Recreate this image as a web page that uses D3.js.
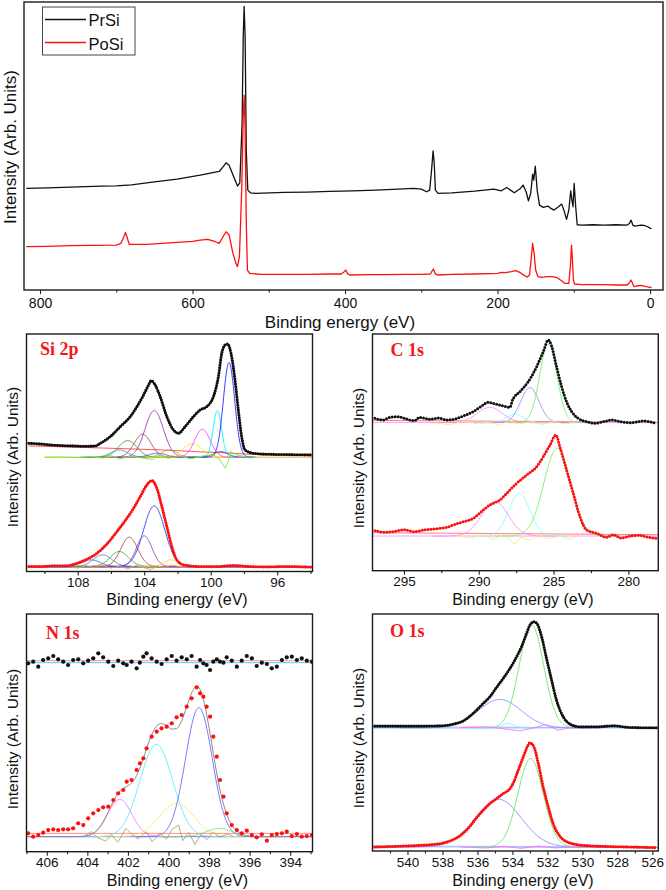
<html lang="en">
<head>
<script src="https://d3js.org/d3.v7.min.js"></script>
<style>
  body { margin: 0; background: white; }
  svg text { font-family: "Liberation Sans", Arial, sans-serif; fill: #111; }
  .plab { font-family: "Liberation Serif", "Times New Roman", serif !important; font-weight: bold; fill: #f01818 !important; }
</style>
</head>
<body>
<svg id="fig" width="666" height="890"></svg>
<script>
// ---------- survey (wide scan) ----------
const surveyPrSi = [[818,305],[790,307],[750,310],[720,312],[700,313],[680,316],[650,325],[620,333],[590,345],[575,352],[565,356],[560,370],[556,382],[552,375],[546,340],[541,312],[538,322],[535,500],[533.5,760],[532.3,852],[531,760],[529.5,420],[527.5,300],[524,292],[517,290],[480,293],[450,294],[420,296],[390,298],[360,300],[330,303],[310,305],[300,303],[293,295],[289,300],[286.5,360],[284.5,418],[283,380],[281.5,300],[278,290],[260,292],[230,297],[205,303],[195,298],[188,308],[183,300],[178,292],[170,305],[166.5,315],[162.5,295],[159.5,268],[156.5,290],[154,348],[152.5,330],[150.5,372],[148,300],[145,255],[140,248],[134,252],[130,245],[126,240],[120,250],[116,258],[113,240],[109.5,212],[106.5,240],[104,298],[102.5,270],[101,250],[99.5,320],[97.5,250],[95.5,196],[90,195],[75,196],[60,195],[45,196],[30,195],[27,200],[25,210],[22.5,195],[20,192],[12,195],[8,194],[3,190],[0,186],[-2,184]];
const surveyPoSi = [[818,130],[790,131],[760,133],[730,134],[700,135],[694,140],[690,160],[688,173],[686,160],[683,137],[660,137],[640,140],[620,143],[600,146],[590,150],[580,152],[570,145],[565,140],[560,160],[556,175],[552,165],[547,110],[543,80],[541,70],[538.5,100],[535.5,300],[533.5,520],[532.3,585],[531,480],[529.5,200],[528,60],[525,50],[510,47],[480,47],[450,47],[420,48],[405,48],[401,55],[399,60],[397,50],[394,45],[370,46],[350,46],[320,47],[300,47],[288,48],[285.5,58],[284,63],[282,50],[279,45],[260,47],[230,48],[200,50],[195,53],[190,52],[182,55],[176,58],[170,52],[165,44],[161,39],[158,45],[156,90],[154,140],[152,110],[150,60],[147,40],[142,38],[135,40],[128,40],[122,37],[116,28],[112,20],[106.5,20],[104.5,70],[103,135],[102,100],[100.5,30],[99,18],[90,16],[80,16],[60,16],[40,15],[30,15],[27,22],[25,30],[23,20],[21,10],[18,12],[12,14],[5,10],[0,8],[-2,8]];
const surveyTicks = [800, 600, 400, 200, 0];
const surveyMinor = [700, 500, 300, 100];
const seriesNames = ["PrSi", "PoSi"];

// ---------- Si 2p ----------
const si2pPrSi = [[110.94,385],[110.3,383],[109.64,380],[108.9,378],[108.24,377],[107.6,376],[106.94,377],[106.64,385],[106.04,405],[105.44,435],[104.84,465],[104.44,495],[104.04,530],[103.74,560],[103.58,573],[103.34,560],[103.04,525],[102.64,465],[102.24,425],[101.94,415],[101.54,435],[101.04,465],[100.64,485],[100.24,495],[99.84,525],[99.54,585],[99.34,655],[99.14,680],[98.98,683],[98.78,655],[98.54,575],[98.34,485],[98.14,405],[97.94,365],[97.44,355],[96.64,352],[95.44,351],[93.94,350]];
const si2pPoSi = [[110.94,15],[110.24,15],[109.44,17],[108.64,17],[108.04,25],[107.44,37],[106.84,55],[106.24,83],[105.64,120],[105.04,160],[104.64,190],[104.24,225],[103.84,260],[103.54,273],[103.24,250],[102.94,195],[102.64,135],[102.34,75],[102.04,35],[101.64,20],[100.64,15],[99.64,15],[98.64,18],[97.64,15],[96.64,14],[95.44,15],[93.94,13]];
// fitted peaks: [centre eV, height, FWHM eV]
const si2pPrSiPeaks = [[105.5,22,1.2],[105.0,50,1.3],[104.1,69,1.2],[103.4,140,1.3],[103.2,12,1.2],[102.5,22,1.1],[101.1,40,1.4],[100.5,84,1.1],[99.6,140,0.6],[99.4,17,1.0],[98.9,284,0.8]];
const si2pPoSiPeaks = [[107.2,20,1.3],[106.5,35,1.3],[105.5,45,1.3],[104.9,88,1.2],[104.0,92,1.1],[103.4,182,1.5],[102.4,20,1.0]];
const si2pPrSiBase = 343, si2pPoSiBase = 15;
const si2pPrSiResid = [[110.0,343],[109,344],[108,342],[107.2,345],[106.5,340],[106.0,348],[105.5,338],[104.8,346],[104.0,340],[103.5,336],[103.2,350],[102.6,340],[101.8,346],[101.2,338],[100.4,348],[99.8,350],[99.45,335],[99.14,310],[98.95,330],[98.8,360],[98.5,350],[98.1,347],[97.7,341],[97.2,343]];
const si2pPoSiResid = [[108.5,15],[108,10],[107.5,18],[107,12],[106.5,19],[106,10],[105.5,16],[105,8],[104.5,18],[104,11],[103.6,6],[103.2,16],[102.8,13],[102.3,19],[101.8,14],[101,15]];
const si2pPrSiBg = [[110.94,377],[106,370],[103,365],[100.5,359],[99,356],[97.7,352],[93.9,350]];
const si2pTicks = [108, 104, 100, 96];
const si2pMinor = [110, 106, 102, 98, 94];

// ---------- C 1s ----------
const c1sPrSi = [[296.94,457],[296.4,452],[295.94,460],[295.4,462],[294.83,455],[294.3,450],[293.94,460],[293.27,454],[292.7,458],[292.15,452],[291.6,455],[291.04,464],[290.37,477],[289.70,497],[289.4,505],[289.03,502],[288.7,498],[288.36,494],[287.92,490],[287.74,512],[287.25,537],[286.69,567],[286.13,612],[285.69,657],[285.35,692],[285.13,674],[284.80,612],[284.46,552],[284.13,507],[283.79,477],[283.35,457],[282.79,447],[282.2,442],[281.68,447],[281.1,452],[280.56,447],[279.8,444],[279.0,449],[278.11,442]];
const c1sPoSi = [[296.94,120],[296.2,115],[295.5,119],[295.0,123],[294.3,117],[293.71,122],[292.6,127],[292.0,132],[291.7,137],[291.04,147],[290.37,157],[289.70,182],[289.26,197],[288.59,212],[287.92,242],[287.47,262],[286.8,287],[286.13,312],[285.69,342],[285.24,377],[284.84,407],[284.58,372],[284.13,302],[283.68,232],[283.24,162],[282.79,122],[282.12,112],[281.46,100],[281.0,108],[280.5,98],[279.9,104],[279.3,106],[278.6,100],[278.11,97]];
const c1sPrSiPeaks = [[289.26,46,2.0],[287.58,25,1.3],[286.58,105,1.45],[285.35,236,1.35]];
const c1sPoSiPeaks = [[288.92,103,2.1],[287.29,128,1.67],[284.75,263,2.1]];
const c1sPrSiBase = 444, c1sPoSiBase = 104;
const c1sPrSiResid = [[293,444],[292,438],[291,448],[290,440],[289.3,446],[288.6,436],[288,450],[287.3,440],[286.5,447],[285.8,438],[285,448],[284.3,440],[283.6,446]];
const c1sPoSiResid = [[291.5,104],[290.5,98],[289.8,108],[289,94],[288.3,110],[287.6,80],[287.2,100],[286.6,92],[286,108],[285.3,96],[284.6,104],[284,95],[283.4,103]];
const c1sTicks = [295, 290, 285, 280];
const c1sMinor = [292.5, 287.5, 282.5];

// ---------- N 1s ----------
const n1sEnergy = [406.92,406.67,406.42,406.18,405.93,405.68,405.44,405.19,404.95,404.70,404.45,404.20,403.96,403.71,403.46,403.22,402.97,402.72,402.48,402.23,402.06,401.82,401.57,401.41,401.24,401.08,400.83,400.58,400.34,400.09,399.84,399.60,399.35,399.10,398.86,398.61,398.44,398.28,398.12,397.95,397.79,397.62,397.46,397.29,397.13,396.88,396.63,396.39,396.14,395.89,395.65,395.40,395.15,394.91,394.66,394.41,394.17,393.92,393.67,393.43,393.18,392.93];
const n1sPrSi = [565,570,555,575,580,587,577,570,560,575,577,565,573,580,595,583,570,557,573,565,560,570,550,567,585,595,580,570,563,577,587,573,583,577,587,555,575,565,560,545,570,577,570,567,583,573,555,573,587,580,557,567,563,550,555,575,583,585,575,580,573,570];
const n1sPoSi = [55,45,50,57,65,67,65,67,67,70,85,80,100,115,125,133,135,155,175,185,210,215,245,265,280,310,345,360,370,375,385,403,410,435,460,493,475,465,435,405,345,285,215,165,115,80,65,55,63,50,43,52,33,50,53,55,60,47,53,45,47,50];
const n1sPoSiPeaks = [[402.4,112,1.4],[400.6,277,1.9],[399.6,100,2.0],[398.5,387,1.55],[397.5,25,1.5]];
const n1sPoSiBase = 45;
const n1sPoSiResid = [[404.2,45],[403.8,60],[403.5,42],[403.1,32],[402.8,50],[402.5,28],[402.1,70],[401.8,52],[401.5,38],[401.1,60],[400.8,30],[400.4,56],[400.1,38],[399.8,68],[399.5,80],[399.3,33],[399.0,58],[398.7,22],[398.4,52],[398.1,36],[397.8,60],[397.5,43],[397.1,53],[396.8,46]];
const n1sTicks = [406, 404, 402, 400, 398, 396, 394];
const n1sMinor = [407, 405, 403, 401, 399, 397, 395, 393];

// ---------- O 1s ----------
const o1sPrSi = [[541.87,374],[540.63,374],[539.29,374],[538.15,375],[537.39,380],[536.81,390],[536.43,404],[536.05,422],[535.67,442],[535.29,462],[534.91,490],[534.53,517],[534.14,547],[533.76,582],[533.48,612],[533.19,652],[533.00,677],[532.77,687],[532.58,680],[532.33,642],[532.05,577],[531.76,512],[531.48,452],[531.09,402],[530.71,380],[530.14,372],[529.19,372],[528.23,375],[527.28,370],[525.76,369]];
const o1sPoSi = [[541.87,12],[540.63,14],[539.29,17],[538.15,22],[537.58,30],[537.10,42],[536.81,54],[536.43,74],[536.05,100],[535.67,122],[535.29,142],[534.91,157],[534.53,172],[534.14,187],[533.95,204],[533.67,242],[533.38,282],[533.15,312],[533.00,324],[532.77,312],[532.52,262],[532.24,192],[531.95,132],[531.67,82],[531.28,44],[530.71,24],[529.95,17],[528.81,14],[527.28,12],[525.76,10]];
const o1sPrSiPeaks = [[534.72,85,2.9],[532.91,308,1.65],[534.24,13,0.8]];
const o1sPoSiPeaks = [[534.81,143,3.1],[532.96,265,1.7]];
const o1sPrSiBase = 369, o1sPoSiBase = 12;
const o1sPrSiResid = [[537,369],[535.5,372],[534.5,366],[533.6,360],[533.2,364],[532.6,371],[532.2,378],[531.8,372],[531.4,362],[530.8,368],[529.5,369]];
const o1sPoSiResid = [[537,12],[535.5,9],[534.5,14],[533.5,8],[532.5,15],[531.5,9],[530.5,13],[529,11]];
const o1sTicks = [540, 538, 536, 534, 532, 530, 528, 526];
const o1sMinor = [541, 539, 537, 535, 533, 531, 529, 527];

const svg = d3.select("#fig");
let clipN = 0;

function gaussCurve(pk, base) {
  const [c, h, w] = pk;
  const s = w / 2.3548;
  return d3.range(c - 2 * w, c + 2 * w, w / 60).map(e => [e, base + h * Math.exp(-0.5 * ((e - c) / s) ** 2)]);
}

function panel(p) {
  const g = svg.append("g");
  const x = d3.scaleLinear().domain(p.xDomain).range([p.left, p.right]);
  const y = d3.scaleLinear().domain(p.yDomain).range([p.bottom, p.top]);
  const id = "clip" + (clipN++);
  svg.append("clipPath").attr("id", id).append("rect")
    .attr("x", p.left).attr("y", p.top)
    .attr("width", p.right - p.left).attr("height", p.bottom - p.top);
  const plot = g.append("g").attr("clip-path", `url(#${id})`);
  const line = d3.line().x(d => x(d[0])).y(d => y(d[1]));
  const smooth = d3.line().x(d => x(d[0])).y(d => y(d[1])).curve(d3.curveMonotoneX);

  (p.spectra || []).forEach(s => {
    (s.bg || []).forEach(b => {
      plot.append("path").attr("d", line(b.pts)).attr("fill", "none")
        .attr("stroke", b.color).attr("stroke-width", 0.9);
    });
    (s.peaks || []).forEach((pk, i) => {
      plot.append("path").attr("d", smooth(gaussCurve(pk, s.base))).attr("fill", "none")
        .attr("stroke", s.peakColors[i]).attr("stroke-width", 0.9);
    });
    if (s.resid) {
      plot.append("path").attr("d", line(s.resid)).attr("fill", "none")
        .attr("stroke", s.residColor).attr("stroke-width", 0.9);
    }
    if (s.envelope) {
      plot.append("path").attr("d", smooth(s.envelope)).attr("fill", "none")
        .attr("stroke", "#8a8a8a").attr("stroke-width", 1);
    }
    if (s.mode === "line") {
      plot.append("path").attr("d", line(s.data)).attr("fill", "none")
        .attr("stroke", s.color).attr("stroke-width", 1.3).attr("stroke-linejoin", "round");
    } else if (s.mode === "dots") {
      plot.append("path").attr("d", smooth(s.data)).attr("fill", "none")
        .attr("stroke", s.color).attr("stroke-width", p.dot)
        .attr("stroke-linecap", "round").attr("stroke-dasharray", `0 ${p.gap}`);
    } else {
      plot.selectAll(null).data(s.data).enter().append("circle")
        .attr("cx", d => x(d[0])).attr("cy", d => y(d[1])).attr("r", 2.1)
        .attr("fill", s.color);
    }
  });

  // minor + major ticks (outside)
  g.append("g").attr("transform", `translate(0,${p.bottom})`)
    .call(d3.axisBottom(x).tickValues(p.minor).tickSize(2.5).tickFormat(""))
    .call(a => a.select(".domain").remove())
    .selectAll("line").attr("stroke", "#222").attr("stroke-width", 1.1);
  g.append("g").attr("transform", `translate(0,${p.bottom})`)
    .call(d3.axisBottom(x).tickValues(p.ticks).tickSize(4).tickPadding(p.pad).tickFormat(d3.format("d")))
    .call(a => a.select(".domain").remove())
    .call(a => a.selectAll("line").attr("stroke", "#222").attr("stroke-width", 1.1))
    .call(a => a.selectAll("text").attr("font-size", p.tickFont).attr("font-family", "Liberation Sans, Arial, sans-serif").attr("fill", "#111"));

  g.append("rect").attr("x", p.left).attr("y", p.top)
    .attr("width", p.right - p.left).attr("height", p.bottom - p.top)
    .attr("fill", "none").attr("stroke", "#1a1a1a").attr("stroke-width", 1.4);

  g.append("text").attr("x", p.titleX).attr("y", p.titleY).attr("text-anchor", "middle")
    .attr("font-size", p.titleFont).text("Binding energy (eV)");
  g.append("text").attr("transform", `translate(${p.ylabX},${p.ylabY}) rotate(-90)`)
    .attr("text-anchor", "middle").attr("font-size", p.ylabFont).text("Intensity (Arb. Units)");
  if (p.label) {
    g.append("text").attr("class", "plab").attr("x", p.labelX).attr("y", p.labelY)
      .attr("font-size", 18).text(p.label);
  }
  return {x, y, g};
}

// ---------- top survey panel ----------
panel({
  left: 24, right: 663, top: 2, bottom: 290,
  xDomain: [821, -17], yDomain: [0, 865],
  ticks: surveyTicks, minor: surveyMinor, pad: 4, tickFont: 14,
  titleX: 340, titleY: 327.5, titleFont: 17,
  ylabX: 15.5, ylabY: 147, ylabFont: 17,
  spectra: [
    {data: surveyPrSi, color: "#111111", mode: "line"},
    {data: surveyPoSi, color: "#ff1010", mode: "line"}
  ]
});

// legend
const leg = svg.append("g");
leg.append("rect").attr("x", 42.5).attr("y", 7).attr("width", 92.5).attr("height", 48)
  .attr("fill", "white").attr("stroke", "#444").attr("stroke-width", 1);
[["#111111", 19.5, 26], ["#ff1010", 42.5, 49.5]].forEach((r, i) => {
  leg.append("line").attr("x1", 45).attr("x2", 86).attr("y1", r[1]).attr("y2", r[1])
    .attr("stroke", r[0]).attr("stroke-width", 1.4);
  leg.append("text").attr("x", 88.5).attr("y", r[2]).attr("font-size", 16.5).text(seriesNames[i]);
});

// ---------- Si 2p ----------
panel({
  left: 26.5, right: 312.5, top: 334, bottom: 571.5,
  xDomain: [111.08, 93.88], yDomain: [0, 713],
  ticks: si2pTicks, minor: si2pMinor, pad: 2, tickFont: 13.5,
  titleX: 177, titleY: 605, titleFont: 16,
  ylabX: 17.5, ylabY: 457, ylabFont: 15.5,
  label: "Si 2p", labelX: 40, labelY: 355,
  dot: 3.1, gap: 2.6,
  spectra: [
    {data: si2pPrSi, color: "#111111", mode: "dots", envelope: si2pPrSi,
     peaks: si2pPrSiPeaks, base: si2pPrSiBase,
     peakColors: ["#3a7fc0", "#2ca02c", "#a0463c", "#9b30c0", "#3050d0", "#b8a050", "#e8e800", "#ff30ff", "#00f0ff", "#2040c0", "#2020ff"],
     resid: si2pPrSiResid, residColor: "#6cf03c",
     bg: [{pts: [[110, si2pPrSiBase], [93.9, si2pPrSiBase]], color: "#ffa040"}, {pts: si2pPrSiBg, color: "#ff4040"}]},
    {data: si2pPoSi, color: "#ff1010", mode: "dots", envelope: si2pPoSi,
     peaks: si2pPoSiPeaks, base: si2pPoSiBase,
     peakColors: ["#4060e0", "#2a8f9f", "#2ca02c", "#a0463c", "#9b30c0", "#3040d8", "#e8e800"],
     resid: si2pPoSiResid, residColor: "#ffa040",
     bg: [{pts: [[110.94, 13], [93.9, 13]], color: "#3040d0"}, {pts: [[110.94, 16], [93.9, 14]], color: "#ff4040"}]}
  ]
});

// ---------- C 1s ----------
panel({
  left: 372.5, right: 658.3, top: 334, bottom: 570.7,
  xDomain: [297.1, 278.0], yDomain: [0, 710],
  ticks: c1sTicks, minor: c1sMinor, pad: 2, tickFont: 13.5,
  titleX: 523, titleY: 605, titleFont: 16,
  ylabX: 363.5, ylabY: 458, ylabFont: 15.5,
  label: "C 1s", labelX: 390.5, labelY: 356,
  dot: 3, gap: 3,
  spectra: [
    {data: c1sPrSi, color: "#111111", mode: "dots",
     peaks: c1sPrSiPeaks, base: c1sPrSiBase,
     peakColors: ["#ff80ff", "#80ffff", "#8c8cff", "#70f070"],
     resid: c1sPrSiResid, residColor: "#f0f070",
     bg: [{pts: [[297.1, 451], [278, 445]], color: "#ff7070"}, {pts: [[297.1, 445], [278, 444]], color: "#ff90ff"}]},
    {data: c1sPoSi, color: "#ff1010", mode: "dots", envelope: c1sPoSi,
     peaks: c1sPoSiPeaks, base: c1sPoSiBase,
     peakColors: ["#ff80ff", "#80ffff", "#70f070"],
     resid: c1sPoSiResid, residColor: "#f0f070",
     bg: [{pts: [[297.1, 114], [278, 108]], color: "#ff7070"}, {pts: [[297.1, 104], [278, 104]], color: "#ff90ff"}]}
  ]
});

// ---------- N 1s ----------
const n1sEnvelope = n1sEnergy.map(e => [e, n1sPoSiBase + d3.sum(n1sPoSiPeaks, pk => pk[1] * Math.exp(-0.5 * ((e - pk[0]) / (pk[2] / 2.3548)) ** 2))]);
panel({
  left: 26.5, right: 312.5, top: 614, bottom: 851.7,
  xDomain: [407.0, 392.9], yDomain: [0, 713],
  ticks: n1sTicks, minor: n1sMinor, pad: 2, tickFont: 13.5,
  titleX: 177.5, titleY: 885.5, titleFont: 16,
  ylabX: 17.5, ylabY: 739, ylabFont: 15.5,
  label: "N 1s", labelX: 46, labelY: 639,
  spectra: [
    {data: n1sEnergy.map((e, i) => [e, n1sPrSi[i]]), color: "#111111", mode: "circles",
     bg: [{pts: [[407, 573], [392.9, 573]], color: "#ff8080"}, {pts: [[407, 567], [392.9, 567]], color: "#40c0ff"}]},
    {data: n1sEnergy.map((e, i) => [e, n1sPoSi[i]]), color: "#ff1010", mode: "circles",
     envelope: n1sEnvelope,
     peaks: n1sPoSiPeaks, base: n1sPoSiBase,
     peakColors: ["#ff70ff", "#60e8ff", "#f0f060", "#6a6aff", "#70e070"],
     resid: n1sPoSiResid, residColor: "#b4a46a",
     bg: [{pts: [[407, 55], [392.9, 55]], color: "#ff8080"}, {pts: [[407, 45], [392.9, 45]], color: "#6a6aff"}]}
  ]
});

// ---------- O 1s ----------
panel({
  left: 372.5, right: 658.3, top: 614, bottom: 851,
  xDomain: [542.0, 525.66], yDomain: [0, 710],
  ticks: o1sTicks, minor: o1sMinor, pad: 2, tickFont: 13.5,
  titleX: 523, titleY: 885.5, titleFont: 16,
  ylabX: 363.5, ylabY: 738, ylabFont: 15.5,
  label: "O 1s", labelX: 390, labelY: 637,
  dot: 3.1, gap: 2.6,
  spectra: [
    {data: o1sPrSi, color: "#111111", mode: "dots", envelope: o1sPrSi,
     peaks: o1sPrSiPeaks, base: o1sPrSiBase,
     peakColors: ["#8a8aff", "#6ae86a", "#60ffff"],
     resid: o1sPrSiResid, residColor: "#ff70ff",
     bg: [{pts: [[542, 372], [525.66, 369]], color: "#ff80ff"}, {pts: [[542, 368], [525.66, 369]], color: "#60e0ff"}]},
    {data: o1sPoSi, color: "#ff1010", mode: "dots", envelope: o1sPoSi,
     peaks: o1sPoSiPeaks, base: o1sPoSiBase,
     peakColors: ["#8a8aff", "#6ae86a"],
     resid: o1sPoSiResid, residColor: "#ff70ff",
     bg: [{pts: [[542, 13], [525.66, 10]], color: "#ff80ff"}, {pts: [[542, 15], [525.66, 12]], color: "#60e0ff"}]}
  ]
});
</script>
</body>
</html>
